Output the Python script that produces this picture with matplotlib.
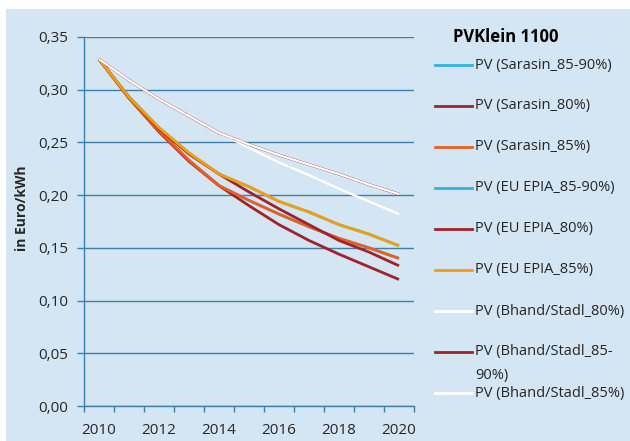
import matplotlib
matplotlib.use('Agg')
from matplotlib import pyplot as plt
from matplotlib.lines import Line2D
from matplotlib.patches import Rectangle
import numpy as np

plt.rcParams['font.family'] = ['Open Sans', 'DejaVu Sans']

years = [2010, 2011, 2012, 2013, 2014, 2015, 2016, 2017, 2018, 2019, 2020]
year_labels = ['2010', '2012', '2014', '2016', '2018', '2020']

sarasin_85_90 = [0.329, 0.292, 0.261, 0.233, 0.209, 0.195, 0.182, 0.170, 0.159, 0.150, 0.140]
sarasin_80 = [0.329, 0.292, 0.260, 0.232, 0.209, 0.190, 0.172, 0.157, 0.144, 0.132, 0.120]
sarasin_85 = [0.329, 0.292, 0.261, 0.233, 0.209, 0.195, 0.182, 0.170, 0.159, 0.150, 0.140]
epia_85_90 = [0.329, 0.293, 0.264, 0.240, 0.220, 0.208, 0.194, 0.184, 0.172, 0.163, 0.152]
epia_80 = [0.329, 0.293, 0.263, 0.239, 0.220, 0.203, 0.187, 0.172, 0.157, 0.146, 0.133]
epia_85 = [0.329, 0.293, 0.264, 0.240, 0.220, 0.208, 0.194, 0.184, 0.172, 0.163, 0.152]
bhand_80 = [0.329, 0.309, 0.291, 0.275, 0.259, 0.245, 0.231, 0.219, 0.206, 0.194, 0.182]
bhand_85_90 = [0.329, 0.309, 0.291, 0.275, 0.259, 0.248, 0.238, 0.229, 0.220, 0.210, 0.201]
bhand_85 = [0.329, 0.309, 0.291, 0.275, 0.259, 0.248, 0.238, 0.229, 0.220, 0.210, 0.201]

series = [
    ('PV (Sarasin_85-90%)', sarasin_85_90, '#2cb5e0'),
    ('PV (Sarasin_80%)', sarasin_80, '#a0232a'),
    ('PV (Sarasin_85%)', sarasin_85, '#ee5d1f'),
    ('PV (EU EPIA_85-90%)', epia_85_90, '#2cb5e0'),
    ('PV (EU EPIA_80%)', epia_80, '#a0232a'),
    ('PV (EU EPIA_85%)', epia_85, '#f59d0a'),
    ('PV (Bhand/Stadl_80%)', bhand_80, '#ffffff'),
    ('PV (Bhand/Stadl_85-\n90%)', bhand_85_90, '#a0232a'),
    ('PV (Bhand/Stadl_85%)', bhand_85, '#ffffff'),
]

bg = '#d4e5f3'
axis_col = '#3f7fab'
text_col = '#262626'

fig = plt.figure(figsize=(6.3, 4.41), dpi=100)
fig.patch.set_facecolor('white')
fig.add_artist(Rectangle((6 / 630, 0), 1, 1 - 9 / 441, transform=fig.transFigure,
                         facecolor=bg, edgecolor='none', zorder=-10))

ax = fig.add_axes([84 / 630, 1 - 406 / 441, 330 / 630, 369 / 441])
ax.set_facecolor('none')

x = np.arange(len(years))
for name, vals, col in series:
    lw = 2.0 if col != '#ffffff' else 1.7
    ax.plot(x, vals, color=col, lw=lw, solid_capstyle='butt', zorder=3)

ax.set_xlim(-0.5, len(years) - 0.5)
ax.set_ylim(0, 0.35)
ax.set_yticks(np.arange(0, 0.351, 0.05))
ax.set_yticklabels([f'{v:.2f}'.replace('.', ',') for v in np.arange(0, 0.351, 0.05)])
ax.yaxis.grid(True, color=axis_col, lw=1.0)
ax.set_axisbelow(True)

ax.set_xticks(np.arange(-0.5, len(years), 1.0))
ax.set_xticklabels([])
ax.set_xticks([years.index(int(y)) for y in year_labels], minor=True)
ax.set_xticklabels(year_labels, minor=True)
ax.tick_params(axis='x', which='major', length=4, color=axis_col, width=1.0)
ax.tick_params(axis='x', which='minor', length=0, pad=12, labelsize=11, labelcolor=text_col)
ax.tick_params(axis='y', length=5, color=axis_col, width=1.0, pad=6.5, labelsize=11,
               labelcolor=text_col)

for s in ['top', 'right']:
    ax.spines[s].set_visible(False)
for s in ['left', 'bottom']:
    ax.spines[s].set_color(axis_col)
    ax.spines[s].set_linewidth(1.0)

fig.text(22 / 630, 1 - 208 / 441, 'in Euro/kWh', rotation=90, ha='center', va='center',
         fontsize=10, fontweight='bold', color=text_col)

# legend
fig.text(453 / 630, 1 - 37 / 441, 'PVKlein 1100', ha='left', va='center',
         fontsize=12, fontweight='bold', color='black')
row_y = [65, 106, 147, 188, 229, 270, 311, 352, 393]
for (name, vals, col), yy in zip(series, row_y):
    fy = 1 - yy / 441
    fig.add_artist(Line2D([435 / 630, 472 / 630], [fy, fy], transform=fig.transFigure,
                          color=col, lw=2.0))
    lines = name.split('\n')
    for k, ln in enumerate(lines):
        fig.text(475 / 630, fy - k * 23 / 441, ln, ha='left', va='center',
                 fontsize=10.5, color=text_col)

fig.savefig('out.png', dpi=100, facecolor=fig.get_facecolor())
